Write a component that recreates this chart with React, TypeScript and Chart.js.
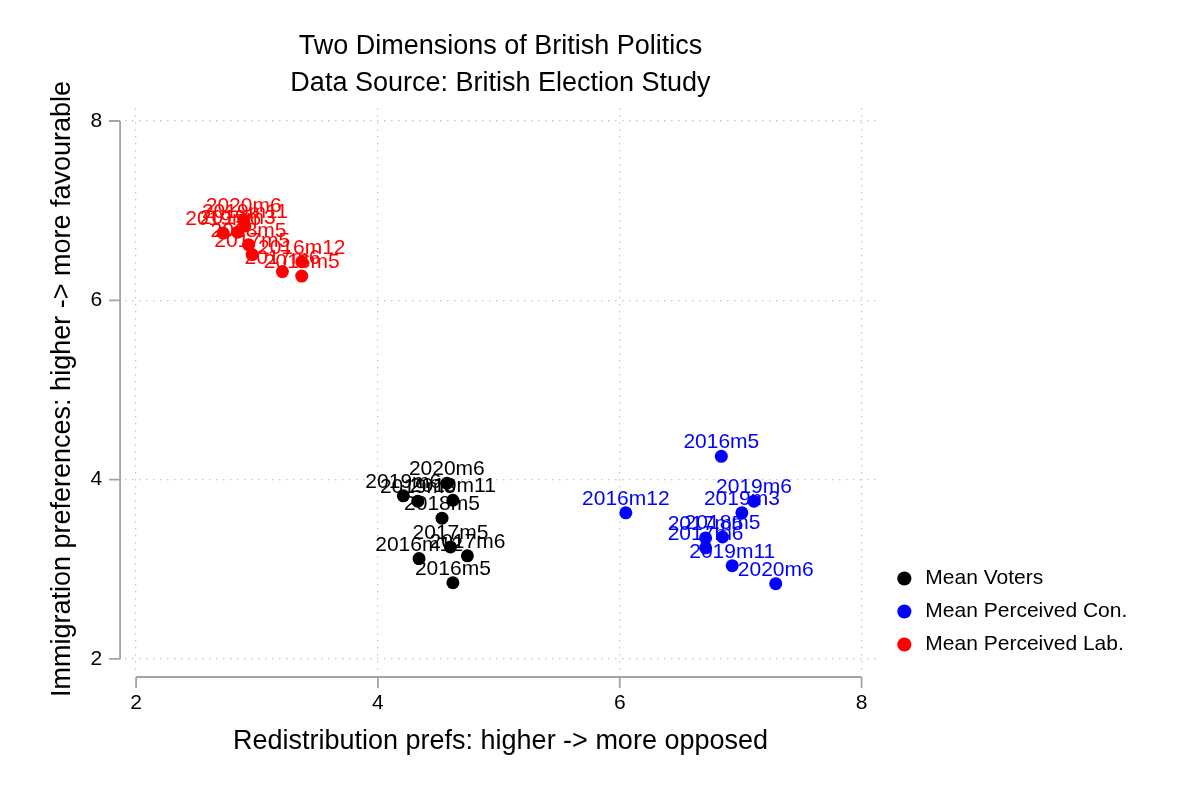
import React, { useEffect, useRef } from 'react';
import { Chart, registerables } from 'chart.js';

Chart.register(...registerables);

// survey waves, same order in every series
const periods = ['2016m5', '2016m12', '2017m5', '2017m6', '2018m5', '2019m3', '2019m6', '2019m11', '2020m6'];

// Mean Voters
const voterX = [4.62, 4.34, 4.60, 4.74, 4.53, 4.33, 4.21, 4.62, 4.57];
const voterY = [2.85, 3.12, 3.25, 3.15, 3.57, 3.76, 3.82, 3.77, 3.96];

// Mean Perceived Con.
const conX = [6.84, 6.05, 6.71, 6.71, 6.85, 7.01, 7.11, 6.93, 7.29];
const conY = [4.26, 3.63, 3.35, 3.24, 3.36, 3.63, 3.76, 3.04, 2.84];

// Mean Perceived Lab.
const labX = [3.37, 3.37, 2.96, 3.21, 2.93, 2.84, 2.72, 2.90, 2.89];
const labY = [6.27, 6.43, 6.51, 6.32, 6.62, 6.76, 6.75, 6.83, 6.90];

const xTicks = [2, 4, 6, 8];
const yTicks = [2, 4, 6, 8];

const FONT = '"Liberation Sans", Arial, Helvetica, sans-serif';
const AXIS_GREY = '#a3a3a3';

const toPoints = (xs: number[], ys: number[]) => xs.map((x, i) => ({ x, y: ys[i] }));

// wave labels drawn above each marker
const pointLabels = {
  id: 'pointLabels',
  afterDatasetsDraw(chart: any) {
    const ctx = chart.ctx;
    ctx.save();
    ctx.font = `21px ${FONT}`;
    ctx.textAlign = 'center';
    ctx.textBaseline = 'alphabetic';
    chart.data.datasets.forEach((ds: any, i: number) => {
      const meta = chart.getDatasetMeta(i);
      ctx.fillStyle = ds.backgroundColor;
      meta.data.forEach((pt: any, j: number) => {
        ctx.fillText(periods[j], pt.x, pt.y - 8);
      });
    });
    ctx.restore();
  },
};

// Stata-like axis lines, offset from the plot region and only as long as the ticks
const offsetAxes = {
  id: 'offsetAxes',
  afterDraw(chart: any) {
    const { ctx, chartArea, scales } = chart;
    const xs = scales.x;
    const ys = scales.y;
    const ax = chartArea.left - 5;
    const ay = chartArea.bottom + 7;
    ctx.save();
    ctx.strokeStyle = AXIS_GREY;
    ctx.lineWidth = 1.8;
    ctx.beginPath();
    ctx.moveTo(ax, ys.getPixelForValue(yTicks[0]));
    ctx.lineTo(ax, ys.getPixelForValue(yTicks[yTicks.length - 1]));
    yTicks.forEach((v) => {
      const py = ys.getPixelForValue(v);
      ctx.moveTo(ax, py);
      ctx.lineTo(ax - 11, py);
    });
    ctx.moveTo(xs.getPixelForValue(xTicks[0]), ay);
    ctx.lineTo(xs.getPixelForValue(xTicks[xTicks.length - 1]), ay);
    xTicks.forEach((v) => {
      const px = xs.getPixelForValue(v);
      ctx.moveTo(px, ay);
      ctx.lineTo(px, ay + 11);
    });
    ctx.stroke();
    ctx.restore();
  },
};

// nudge the legend a little right and up, where Stata puts it
const legendNudge = {
  id: 'legendNudge',
  afterLayout(chart: any) {
    const lg = chart.legend;
    if (!lg) return;
    lg.left += 6;
    lg.right += 6;
    lg.top -= 3;
    lg.bottom -= 3;
  },
};

const App: React.FC = () => {
  const ref = useRef<HTMLCanvasElement>(null);

  useEffect(() => {
    if (!ref.current) return;

    const grid = {
      color: '#c4c4c4',
      lineWidth: 1.2,
      drawTicks: false,
    };
    // in chart.js 4 the grid line dash lives on border
    const border = { display: false, dash: [1.5, 5.5] };

    const chart = new Chart(ref.current, {
      type: 'scatter',
      data: {
        datasets: [
          { label: 'Mean Voters', data: toPoints(voterX, voterY), backgroundColor: '#000000' },
          { label: 'Mean Perceived Con.', data: toPoints(conX, conY), backgroundColor: '#0000ff' },
          { label: 'Mean Perceived Lab.', data: toPoints(labX, labY), backgroundColor: '#ff0000' },
        ],
      },
      options: {
        responsive: true,
        maintainAspectRatio: false,
        animation: false,
        elements: {
          point: { radius: 6.5, borderWidth: 0, hoverRadius: 6.5 },
        },
        layout: { padding: { left: 42, right: 68.7, top: 0, bottom: 37.8 } },
        scales: {
          x: {
            type: 'linear',
            min: 1.909,
            max: 8.118,
            afterBuildTicks: (scale: any) => {
              scale.ticks = xTicks.map((value) => ({ value }));
            },
            grid,
            border,
            ticks: { color: '#000', font: { family: FONT, size: 21 }, padding: 21, maxRotation: 0 },
            title: {
              display: true,
              text: 'Redistribution prefs: higher -> more opposed',
              color: '#000',
              font: { family: FONT, size: 27 },
              padding: { top: -11.4, bottom: 4 },
            },
          },
          y: {
            type: 'linear',
            min: 1.877,
            max: 8.145,
            afterBuildTicks: (scale: any) => {
              scale.ticks = yTicks.map((value) => ({ value }));
            },
            grid,
            border,
            ticks: { color: '#000', font: { family: FONT, size: 21 }, padding: 23 },
            title: {
              display: true,
              text: 'Immigration preferences: higher -> more favourable',
              color: '#000',
              font: { family: FONT, size: 27 },
              padding: { top: 4, bottom: -11 },
            },
          },
        },
        plugins: {
          title: {
            display: true,
            fullSize: false,
            text: ['Two Dimensions of British Politics', 'Data Source: British Election Study'],
            color: '#000',
            font: { family: FONT, size: 27, weight: 'normal', lineHeight: 1.37 },
            padding: { top: 28.5, bottom: 5.5 },
          },
          legend: {
            position: 'right',
            align: 'end',
            fullSize: false,
            labels: {
              usePointStyle: true,
              pointStyle: 'circle',
              boxHeight: 10,
              color: '#000',
              font: { family: FONT, size: 21 },
              padding: 12,
            },
          },
          tooltip: { enabled: false },
        },
      },
      plugins: [pointLabels, offsetAxes, legendNudge],
    });

    return () => {
      chart.destroy();
    };
  }, []);

  return (
    <div style={{ position: 'absolute', left: 0, top: 0, width: 1200, height: 800, background: '#fff' }}>
      <canvas ref={ref}></canvas>
    </div>
  );
};

export default App;
